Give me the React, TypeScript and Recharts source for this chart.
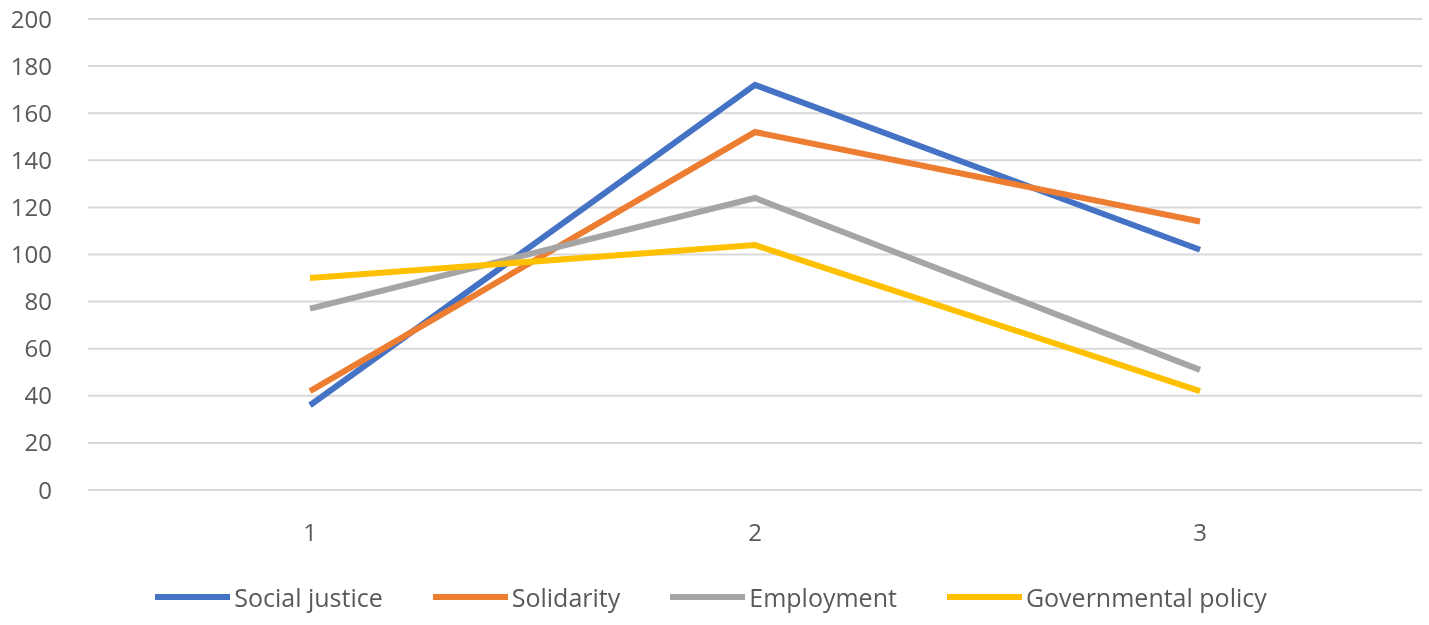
import { LineChart, Line, XAxis, YAxis, CartesianGrid, Legend } from "recharts";

const categories = ["1", "2", "3"];
const socialJustice = [36, 172, 102];
const solidarity = [42, 152, 114];
const employment = [77, 124, 51];
const governmentalPolicy = [90, 104, 42];
const yTicks = [0, 20, 40, 60, 80, 100, 120, 140, 160, 180, 200];

const SERIES = [
  { key: "sj", name: "Social justice", color: "#4472C4", values: socialJustice },
  { key: "so", name: "Solidarity", color: "#ED7D31", values: solidarity },
  { key: "em", name: "Employment", color: "#A5A5A5", values: employment },
  { key: "gp", name: "Governmental policy", color: "#FFC000", values: governmentalPolicy },
];

const data = categories.map((c, i) => {
  const row: any = { cat: c };
  SERIES.forEach(s => (row[s.key] = s.values[i]));
  return row;
});

function LegendContent() {
  return (
    <div style={{ display: "flex", justifyContent: "center", gap: 50, paddingLeft: 0, paddingTop: 30, fontSize: 25, color: "#595959" }}>
      {SERIES.map(s => (
        <span key={s.key} style={{ display: "flex", alignItems: "center", gap: 4 }}>
          <span style={{ width: 75, height: 6, background: s.color, display: "inline-block" }} />
          {s.name}
        </span>
      ))}
    </div>
  );
}

export default function App() {
  return (
    <div style={{ position: "fixed", left: 0, top: 0, fontFamily: "'Open Sans', sans-serif" }}>
      <LineChart width={1429} height={625} data={data} margin={{ top: 19, right: 7, left: 0, bottom: 5 }}>
        <CartesianGrid stroke="#D9D9D9" strokeWidth={2} vertical={false} />
        <XAxis
          dataKey="cat"
          height={60}
          padding={{ left: 222, right: 222 }}
          axisLine={{ stroke: "#D9D9D9", strokeWidth: 2 }}
          tickLine={false}
          tickMargin={28}
          tick={{ fontSize: 24, fill: "#595959" }}
        />
        <YAxis
          width={88}
          domain={[0, 200]}
          ticks={yTicks}
          axisLine={false}
          tickLine={false}
          tickMargin={30}
          tick={{ fontSize: 24, fill: "#595959" }}
        />
        <Legend verticalAlign="bottom" height={70} content={<LegendContent />} />
        {SERIES.map(s => (
          <Line
            key={s.key}
            dataKey={s.key}
            name={s.name}
            stroke={s.color}
            strokeWidth={6}
            dot={false}
            isAnimationActive={false}
          />
        ))}
      </LineChart>
    </div>
  );
}
